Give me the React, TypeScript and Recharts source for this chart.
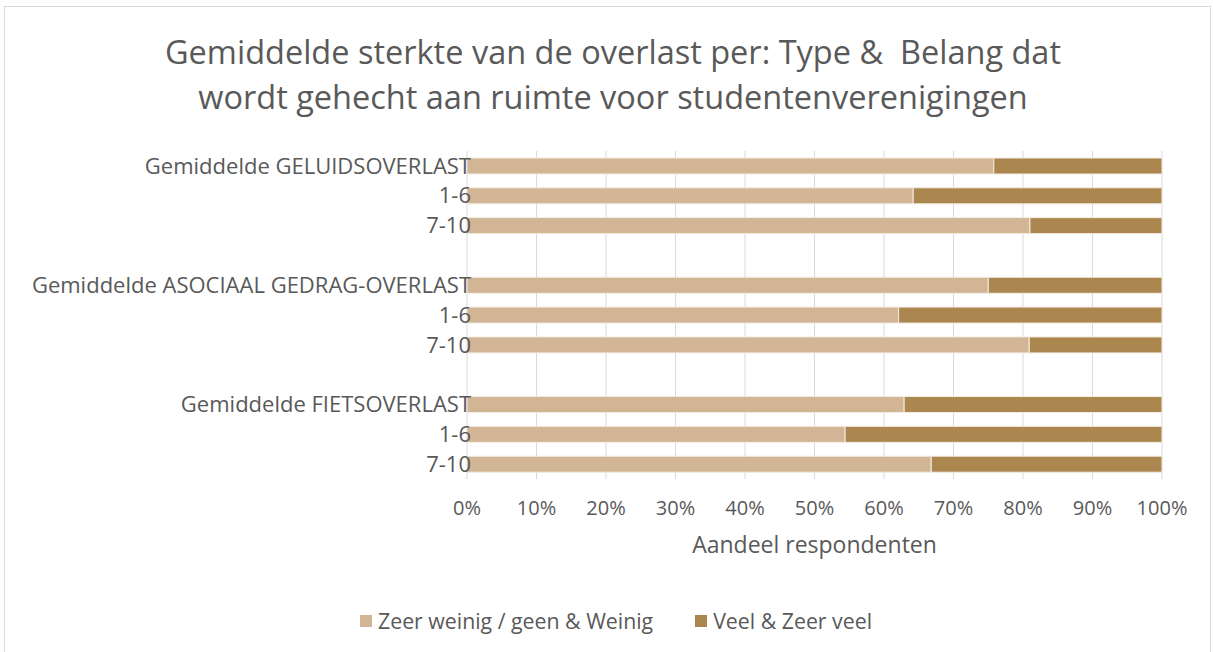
import { BarChart, Bar, XAxis, YAxis, CartesianGrid } from "recharts";

// categorieën (lege rijen = witruimte tussen de groepen)
const categories = [
  "Gemiddelde GELUIDSOVERLAST",
  "1-6",
  "7-10",
  "",
  "Gemiddelde ASOCIAAL GEDRAG-OVERLAST",
  "1-6",
  "7-10",
  "",
  "Gemiddelde FIETSOVERLAST",
  "1-6",
  "7-10",
];

// aandeel respondenten (%)
const weinig = [75.8, 64.2, 81.0, null, 75.0, 62.1, 80.9, null, 62.9, 54.4, 66.8];
const veel = [24.2, 35.8, 19.0, null, 25.0, 37.9, 19.1, null, 37.1, 45.6, 33.2];

const xTicks = [0, 10, 20, 30, 40, 50, 60, 70, 80, 90, 100];

const seriesNames = ["Zeer weinig / geen & Weinig", "Veel & Zeer veel"];
const seriesColors = ["#D2B594", "#AB864F"];

const FONT = "'Open Sans', sans-serif";
const TEXT = "#595959";

const data = categories.map((label, i) => ({
  id: i,
  label,
  weinig: weinig[i],
  veel: veel[i],
}));

const YTick = ({ x, y, payload }: any) => (
  <text x={x + 6} y={y} dy="0.35em" textAnchor="end" fill={TEXT} fontSize={22} fontFamily={FONT}>
    {payload.value}
  </text>
);

export default function App() {
  return (
    <div style={{ position: "absolute", left: 0, top: 0, width: 1214, height: 652, background: "#fff", overflow: "hidden" }}>
      <div style={{ position: "absolute", left: 4, top: 6, width: 1205, height: 700, border: "1px solid #d9d9d9" }} />
      <div
        style={{
          position: "absolute",
          top: 29,
          left: 0,
          width: 1226,
          textAlign: "center",
          fontFamily: FONT,
          fontSize: 32.5,
          lineHeight: "45px",
          color: TEXT,
          whiteSpace: "pre",
        }}
      >
        {"Gemiddelde sterkte van de overlast per: Type &  Belang dat\nwordt gehecht aan ruimte voor studentenverenigingen"}
      </div>
      <div style={{ position: "absolute", left: 0, top: 0 }}>
        <BarChart
          width={1214}
          height={652}
          data={data}
          layout="vertical"
          margin={{ top: 151, right: 52, bottom: 0, left: 0 }}
        >
          <CartesianGrid horizontal={false} stroke="#d9d9d9" />
          <XAxis
            type="number"
            domain={[0, 100]}
            ticks={xTicks}
            tickFormatter={(v) => `${v}%`}
            axisLine={false}
            tickLine={false}
            tickSize={0}
            tickMargin={22}
            height={173}
            tick={{ fill: TEXT, fontSize: 20, fontFamily: FONT }}
            label={{
              value: "Aandeel respondenten",
              position: "insideTop",
              offset: 58,
              fill: TEXT,
              fontSize: 23,
              fontFamily: FONT,
            }}
          />
          <YAxis
            type="category"
            dataKey="label"
            width={467}
            axisLine={false}
            tickLine={false}
            tickSize={0}
            interval={0}
            tick={<YTick />}
          />
          <Bar dataKey="weinig" name={seriesNames[0]} stackId="a" fill={seriesColors[0]} barSize={16} stroke="#F3ECE2" strokeWidth={1} isAnimationActive={false} />
          <Bar dataKey="veel" name={seriesNames[1]} stackId="a" fill={seriesColors[1]} barSize={16} stroke="#F3ECE2" strokeWidth={1} isAnimationActive={false} />
        </BarChart>
      </div>
      <div
        style={{
          position: "absolute",
          top: 606,
          left: 0,
          width: 1214,
          display: "flex",
          justifyContent: "center",
          paddingLeft: 18,
          boxSizing: "border-box",
          gap: 42,
          fontFamily: FONT,
          fontSize: 21.3,
          color: TEXT,
        }}
      >
        {seriesNames.map((n, i) => (
          <div key={n} style={{ display: "flex", alignItems: "center" }}>
            <span style={{ display: "inline-block", width: 12, height: 12, background: seriesColors[i], marginRight: 6 }} />
            {n}
          </div>
        ))}
      </div>
    </div>
  );
}
